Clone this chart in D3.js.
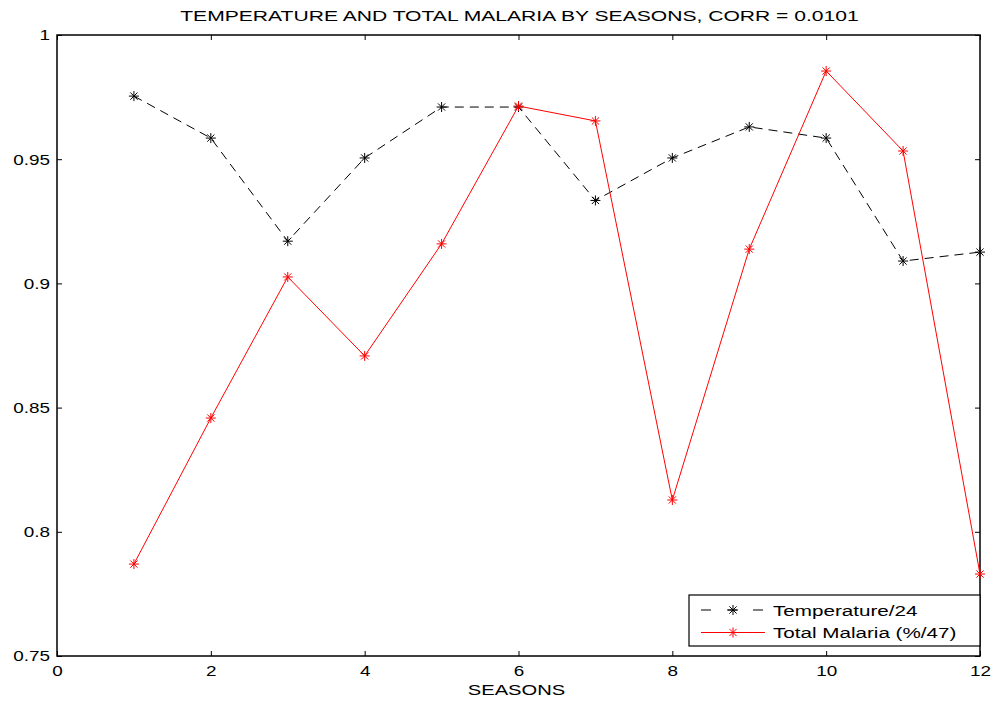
<!DOCTYPE html>
<html>
<head>
<meta charset="utf-8">
<script src="https://cdn.jsdelivr.net/npm/d3@7"></script>
<style>
body { margin: 0; background: #fff; }
text { font-family: "Liberation Sans", Arial, sans-serif; }
</style>
</head>
<body>
<div id="chart"></div>
<script>
var width = 998;
var height = 702;

var seasons = [1, 2, 3, 4, 5, 6, 7, 8, 9, 10, 11, 12];
var temperature = [0.9754, 0.9585, 0.917, 0.9505, 0.971, 0.971, 0.9334, 0.9505, 0.963, 0.9585, 0.909, 0.9126];
var malaria = [0.787, 0.8458, 0.9026, 0.8708, 0.9159, 0.9714, 0.9654, 0.8128, 0.9138, 0.9855, 0.9533, 0.783];
var xTicks = [0, 2, 4, 6, 8, 10, 12];
var yTicks = [0.75, 0.8, 0.85, 0.9, 0.95, 1];

var series = [
	{ name: "Temperature/24", values: temperature, color: "#000", dash: "9,6" },
	{ name: "Total Malaria (%/47)", values: malaria, color: "#ff0000", dash: null }
];

// plot box (avoid the name "top", it's window.top)
var mLeft = 57, mRight = 980, mTop = 35, mBottom = 656;

var svg = d3.select("#chart")
	.append("svg")
		.attr("width", width)
		.attr("height", height);

var x = d3.scaleLinear().domain([0, 12]).range([mLeft, mRight]);
var y = d3.scaleLinear().domain([0.75, 1]).range([mBottom, mTop]);

// the original font is stretched horizontally
function stretch(sel, f) {
	sel.each(function() {
		var w = this.getComputedTextLength();
		d3.select(this).attr("textLength", w * f).attr("lengthAdjust", "spacingAndGlyphs");
	});
}

// axes with inward ticks, mirrored on top/right
var gx = svg.append("g")
	.attr("transform", "translate(0," + mBottom + ")")
	.call(d3.axisBottom(x).tickValues(xTicks).tickSizeInner(-5).tickSizeOuter(0).tickPadding(9).tickFormat(d3.format("d")));
svg.append("g")
	.attr("transform", "translate(0," + mTop + ")")
	.call(d3.axisTop(x).tickValues(xTicks).tickSizeInner(-5).tickSizeOuter(0).tickFormat(""));
var gy = svg.append("g")
	.attr("transform", "translate(" + mLeft + ",0)")
	.call(d3.axisLeft(y).tickValues(yTicks).tickSizeInner(-5).tickSizeOuter(0).tickPadding(7).tickFormat(d => String(+d.toFixed(2))));
svg.append("g")
	.attr("transform", "translate(" + mRight + ",0)")
	.call(d3.axisRight(y).tickValues(yTicks).tickSizeInner(-5).tickSizeOuter(0).tickFormat(""));

svg.selectAll(".domain").remove();
svg.selectAll(".tick line").attr("stroke", "#000");
svg.selectAll(".tick text").attr("font-size", 15.5).attr("fill", "#000")
	.attr("font-family", "Liberation Sans, Arial, sans-serif");
stretch(svg.selectAll(".tick text"), 1.22);

// box
svg.append("rect")
	.attr("x", mLeft).attr("y", mTop)
	.attr("width", mRight - mLeft).attr("height", mBottom - mTop)
	.attr("fill", "none").attr("stroke", "#000").attr("stroke-width", 1.5);

var line = d3.line()
	.x((d, i) => x(seasons[i]))
	.y(d => y(d));

function star(g, cx, cy, color) {
	var a = 5, b = 3.6;
	var segs = [[-a, 0, a, 0], [0, -a, 0, a], [-b, -b, b, b], [-b, b, b, -b]];
	g.selectAll(null).data(segs).enter().append("line")
		.attr("x1", s => cx + s[0]).attr("y1", s => cy + s[1])
		.attr("x2", s => cx + s[2]).attr("y2", s => cy + s[3])
		.attr("stroke", color).attr("stroke-width", 1);
}

series.forEach(function(s) {
	svg.append("path")
		.datum(s.values)
		.attr("d", line)
		.attr("fill", "none")
		.attr("stroke", s.color)
		.attr("stroke-width", 1)
		.attr("stroke-dasharray", s.dash);
	var g = svg.append("g");
	s.values.forEach(function(v, i) {
		star(g, x(seasons[i]), y(v), s.color);
	});
});

// title and label
var title = svg.append("text")
	.attr("x", (mLeft + mRight) / 2 + 1).attr("y", 21)
	.attr("text-anchor", "middle").attr("font-size", 15.5)
	.text("TEMPERATURE AND TOTAL MALARIA BY SEASONS, CORR = 0.0101");
stretch(title, 1.36);
var xlab = svg.append("text")
	.attr("x", (mLeft + mRight) / 2 - 2).attr("y", 695)
	.attr("text-anchor", "middle").attr("font-size", 15.5)
	.text("SEASONS");
stretch(xlab, 1.3);

// legend
var lg = svg.append("g");
lg.append("rect")
	.attr("x", 689).attr("y", 595)
	.attr("width", mRight - 689).attr("height", 51)
	.attr("fill", "#fff").attr("stroke", "#000").attr("stroke-width", 1.2);
series.forEach(function(s, i) {
	var ly = 610 + i * 22.5;
	lg.append("line")
		.attr("x1", 701).attr("x2", 765)
		.attr("y1", ly).attr("y2", ly)
		.attr("stroke", s.color).attr("stroke-width", 1)
		.attr("stroke-dasharray", s.dash ? "10,16" : null);
	star(lg, 733, ly, s.color);
	var t = lg.append("text")
		.attr("x", 773).attr("y", ly + 5.5)
		.attr("font-size", 15.5)
		.text(s.name);
	stretch(t, 1.33);
});
</script>
</body>
</html>
